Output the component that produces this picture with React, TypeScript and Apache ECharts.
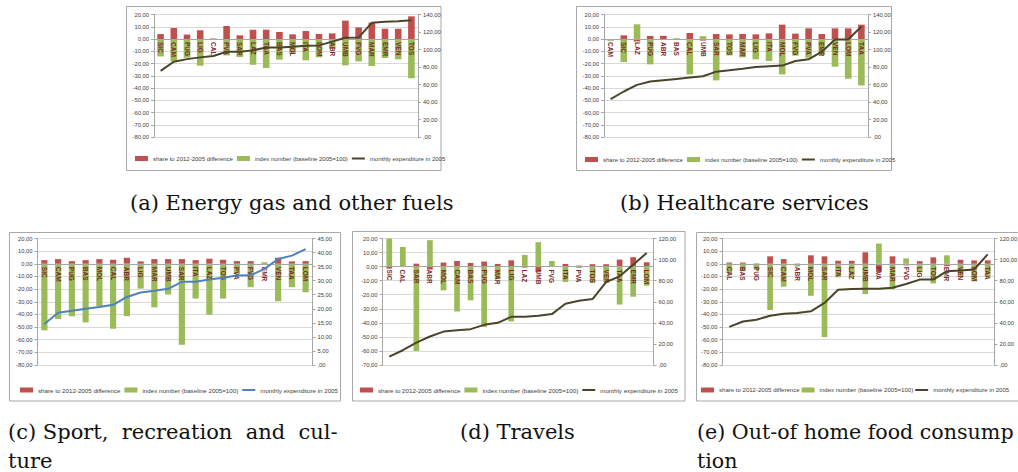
import React, { useEffect, useRef } from 'react';
import * as echarts from 'echarts';

// ---------- DATA ----------
const catsA = ['SIC','CAM','PUG','LIG','CAL','PVA','SAR','LAZ','TAA','BAS','MOL','ITA','LOM','ABR','UMB','FVG','MAR','EMR','VEN','TOS'];
const shareA = [4.0, 9.0, 3.6, 7.1, 0.4, 10.6, 3.0, 7.6, 7.6, 5.7, 3.8, 6.5, 4.1, 4.6, 15.0, 9.5, 13.4, 8.4, 8.4, 18.5];
const indexA = [-14.2, -18.5, -15.3, -21.8, -0.3, -13.4, -14.7, -21.0, -23.7, -16.9, -12.0, -17.4, -15.0, -8.0, -21.5, -18.3, -22.0, -15.5, -16.6, -32.0];
const expA = [75.5, 86, 89, 91, 92.5, 97.5, 97.5, 99, 102.4, 102.4, 103.2, 104.3, 104.7, 109, 113.4, 113.8, 130.5, 131.6, 132.4, 133.5];

const catsB = ['CAM','SIC','LAZ','PUG','ABR','BAS','CAL','UMB','SAR','TOS','MAR','LIG','ITA','MOL','FVG','PVA','EMR','VEN','LOM','TAA'];
const shareB = [0, 3.0, -2.0, 2.5, 2.6, 0.2, 4.9, -1.3, 4.1, 3.8, 4.1, 3.8, 4.6, 11.7, 4.4, 8.7, 4.1, 8.7, 8.7, 11.7];
const indexB = [-1.5, -18.8, 12.0, -20.7, -0.3, 0.5, -28.9, 2.3, -33.8, -13.4, -15.0, -16.6, -18.0, -28.9, -13.6, -15.3, -13.0, -22.6, -32.4, -37.9];
const expB = [43.2, 52, 59.6, 63.4, 64.9, 66.4, 67.9, 69.4, 74.7, 76.3, 78.1, 80, 80.8, 81.6, 86.9, 88.8, 97.5, 111.5, 111.5, 126.3];

const catsC = ['SIC','CAM','PUG','BAS','MOL','CAL','ABR','LIG','MAR','UMB','SAR','ITA','LAZ','TOS','PVA','FVG','EMR','VEN','TAA','LOM'];
const shareC = [2.9, 3.7, 2.1, 2.9, 3.7, 3.2, 4.8, 1.9, 3.7, 3.7, 3.7, 2.9, 4.0, 3.2, 2.1, 2.1, 0.2, 4.8, 1.9, 2.1];
const indexC = [-52.6, -43.7, -41.5, -46.3, -33.5, -51.3, -41.5, -19.6, -34.4, -24.3, -64.0, -27.5, -40.2, -27.5, -8.0, -18.5, 1.2, -29.6, -18.5, -22.5];
const expC = [14.6, 18.6, 19.3, 20, 20.6, 21.4, 24.2, 25.8, 26.4, 27.1, 29.6, 29.6, 30.4, 31, 31.8, 31.9, 34.2, 37.7, 38.9, 41.2];

const catsD = ['SIC','CAL','SAR','ABR','MOL','CAM','BAS','PUG','MAR','LIG','LAZ','UMB','FVG','ITA','PVA','TOS','VEN','TAA','EMR','LOM'];
const shareD = [-1.4, -0.3, 2.1, -2.1, 2.9, 4.0, 2.6, 3.6, 1.9, 4.5, -0.7, -3.8, -0.3, 1.9, 0.7, 1.7, 1.7, 5.0, 6.7, 3.1];
const indexD = [20.0, 14.0, -60.0, 18.8, -16.9, -31.9, -24.0, -42.9, -9.0, -39.0, 8.3, 17.4, 4.0, -11.0, -1.0, -11.7, -10.5, -27.0, -21.4, -13.6];
const expD = [7.9, 14, 21.3, 27, 31.7, 33, 34, 38.1, 40, 45.7, 45.7, 46.7, 48.3, 58.1, 61, 62.5, 78.7, 84.1, 95.2, 106.3];

const catsE = ['CAL','BAS','PUG','SIC','CAM','ABR','MOL','SAR','ITA','LAZ','UMB','PVA','MAR','FVG','LIG','TOS','EMR','VEN','LOM','TAA'];
const shareE = [1.0, 1.0, 0.3, 5.9, 3.7, 0.2, 6.7, 5.9, 2.4, 2.4, 9.1, -6.7, 5.9, -1.3, 2.1, 5.1, -1.9, 3.2, 2.7, 2.7];
const indexE = [-7.5, -5.9, -4.8, -36.5, -18.1, -2.1, -25.3, -57.9, -10.7, -10.5, -24.0, 16.0, -20.0, 4.3, -6.7, -15.5, 6.7, -10.7, -13.9, -10.1];
const expE = [36.2, 41.3, 42.9, 46.7, 48.6, 49.3, 50.9, 58.9, 71.4, 72, 72.3, 72.3, 73.3, 76.8, 81, 81, 89, 89.6, 90.6, 105];

const N_SHARE = 'share to 2012-2005 difference';
const N_INDEX = 'index number (baseline 2005=100)';
const N_EXP = 'monthly expenditure in 2005';

const captionA = ['(a) Energy gas and other fuels'];
const captionB = ['(b) Healthcare services'];
const captionC = ['(c) Sport,  recreation  and  cul-', 'ture'];
const captionD = ['(d) Travels'];
const captionE = ['(e) Out-of home food consump', 'tion'];

// ---------- STYLE ----------
const RED = '#c0504d';
const GREEN = '#9bbb59';
const OLIVE = '#4a452a';
const BLUE = '#4f81bd';
const SANS = "'Liberation Sans', Arial, sans-serif";
const SERIF = "'DejaVu Serif', serif";
const LINE_ICON = 'path://M0,0h0.01v0.01h-0.01zM0,1.6h13v1.8h-13zM0,4.99h0.01v0.01h-0.01z';

const fmtL = (v: number) => v.toFixed(2).replace('.', ',');
const fmtR = (v: number) => (v === 0 ? ',00' : v.toFixed(2).replace('.', ','));

const panels = [
  { cats: catsA, share: shareA, index: indexA, exp: expA, grid: { left: 154, top: 14.5, width: 264, height: 122.5 }, lmin: -80, rmax: 140, rint: 20, line: OLIVE, bw: '50%', box: [126.5, 6.5, 314.5, 164], legend: { left: 135, top: 155.5 }, lfs: 6, lgap: 4, cap: captionA, capPos: [130, 203], cfs: 21 },
  { cats: catsB, share: shareB, index: indexB, exp: expB, grid: { left: 604, top: 14.5, width: 264, height: 122.5 }, lmin: -80, rmax: 140, rint: 20, line: OLIVE, bw: '50%', box: [576.5, 6.5, 315, 164], legend: { left: 585, top: 156.5 }, lfs: 6, lgap: 4, cap: captionB, capPos: [620, 203], cfs: 21 },
  { cats: catsC, share: shareC, index: indexC, exp: expC, grid: { left: 37.5, top: 238.5, width: 275, height: 126.5 }, lmin: -80, rmax: 45, rint: 5, line: BLUE, bw: '45%', box: [9.5, 232.5, 331, 168.5], legend: { left: 20, top: 387 }, lfs: 6.2, lgap: 4, cap: captionC, capPos: [8, 432], cfs: 21 },
  { cats: catsD, share: shareD, index: indexD, exp: expD, grid: { left: 382.5, top: 238.5, width: 271, height: 126.5 }, lmin: -70, rmax: 120, rint: 20, line: OLIVE, bw: '42%', box: [352.5, 231.5, 332.5, 169.5], legend: { left: 360, top: 387 }, lfs: 6.2, lgap: 4, cap: captionD, capPos: [460, 432], cfs: 21 },
  { cats: catsE, share: shareE, index: indexE, exp: expE, grid: { left: 722.5, top: 238.5, width: 272, height: 126.5 }, lmin: -80, rmax: 120, rint: 20, line: OLIVE, bw: '42%', box: [696.5, 232.5, 340, 168.5], legend: { left: 701, top: 387 }, lfs: 6.05, lgap: 2, cap: captionE, capPos: [697, 432], cfs: 20.6 },
];

function buildOption() {
  const grid: any[] = [];
  const xAxis: any[] = [];
  const yAxis: any[] = [];
  const series: any[] = [];
  const legend: any[] = [];
  const graphic: any[] = [];

  panels.forEach((p, i) => {
    grid.push({ ...p.grid, containLabel: false, outerBoundsMode: 'none' });
    // place the category axis on the left axis' zero
    const zeroOffset = -(p.grid.height * (0 - p.lmin)) / (20 - p.lmin);
    xAxis.push({
      type: 'category', gridIndex: i, data: p.cats, z: 4, position: 'bottom', offset: zeroOffset,
      axisLine: { show: true, onZero: false, lineStyle: { color: '#a6a6a6', width: 1 } },
      axisTick: { show: false },
      splitLine: { show: false },
      axisLabel: { interval: 0, rotate: -90, margin: 3, fontSize: 6.5, fontWeight: 'bold', color: '#7b2a2a', fontFamily: SANS },
    });
    yAxis.push({
      type: 'value', gridIndex: i, position: 'left', min: p.lmin, max: 20, interval: 10,
      axisLine: { show: true, lineStyle: { color: '#a6a6a6' } },
      axisTick: { show: true, length: 3, lineStyle: { color: '#a6a6a6' } },
      splitLine: { show: true, lineStyle: { color: '#d9d9d9', width: 1 } },
      axisLabel: { formatter: fmtL, fontSize: 5.8, color: '#404040', margin: 5, fontFamily: SANS },
    });
    yAxis.push({
      type: 'value', gridIndex: i, position: 'right', min: 0, max: p.rmax, interval: p.rint,
      axisLine: { show: true, lineStyle: { color: '#a6a6a6' } },
      axisTick: { show: true, length: 3, lineStyle: { color: '#a6a6a6' } },
      splitLine: { show: false },
      axisLabel: { formatter: fmtR, fontSize: 5.8, color: '#404040', margin: 5, fontFamily: SANS },
    });
    series.push({
      type: 'bar', name: N_SHARE, xAxisIndex: i, yAxisIndex: 2 * i, data: p.share,
      barWidth: p.bw, barGap: '-100%', itemStyle: { color: RED }, z: 2,
    });
    series.push({
      type: 'bar', name: N_INDEX, xAxisIndex: i, yAxisIndex: 2 * i, data: p.index,
      barWidth: p.bw, barGap: '-100%', itemStyle: { color: GREEN }, z: 2,
    });
    series.push({
      type: 'line', name: N_EXP, xAxisIndex: i, yAxisIndex: 2 * i + 1, data: p.exp,
      symbol: 'none', lineStyle: { color: p.line, width: 2 }, itemStyle: { color: p.line }, z: 5,
    });
    legend.push({
      left: p.legend.left, top: p.legend.top, width: 600, orient: 'horizontal', padding: 0,
      itemGap: p.lgap, itemWidth: 13, itemHeight: 5, selectedMode: false,
      textStyle: { fontSize: p.lfs, color: '#404040', fontFamily: SANS },
      data: [
        { name: N_SHARE, icon: 'rect', itemStyle: { color: RED } },
        { name: N_INDEX, icon: 'rect', itemStyle: { color: GREEN } },
        { name: N_EXP, icon: LINE_ICON, itemStyle: { color: p.line } },
      ],
    });
    graphic.push({
      type: 'rect', silent: true, z: -1,
      shape: { x: p.box[0], y: p.box[1], width: p.box[2], height: p.box[3] },
      style: { fill: 'none', stroke: '#a8a8a8', lineWidth: 1 },
    });
    p.cap.forEach((t, k) => {
      graphic.push({
        type: 'text', x: p.capPos[0], y: p.capPos[1] + k * 29,
        style: { text: t, fill: '#111', fontSize: p.cfs, fontFamily: SERIF, verticalAlign: 'middle', align: 'left' },
      });
    });
  });

  return { animation: false, backgroundColor: '#ffffff', grid, xAxis, yAxis, series, legend, graphic, tooltip: { show: false } };
}

export default function App() {
  const ref = useRef<HTMLDivElement>(null);
  useEffect(() => {
    if (!ref.current) return;
    const chart = echarts.init(ref.current, undefined, { renderer: 'svg' });
    chart.setOption(buildOption() as any);
    return () => chart.dispose();
  }, []);
  return <div ref={ref} style={{ position: 'absolute', left: 0, top: 0, width: 1018, height: 472 }} />;
}
